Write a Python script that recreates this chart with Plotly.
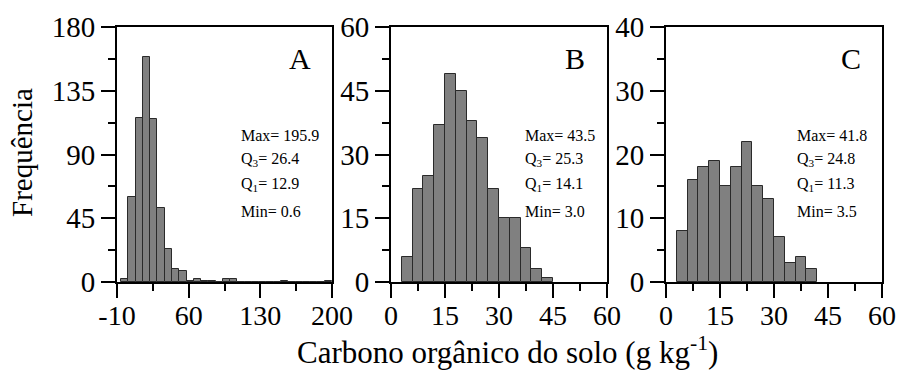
import plotly.graph_objects as go

W, H = 899, 374

# ---- data ----
a_counts = [2, 60, 116, 159, 115, 52, 23, 9, 8, 1, 2, 1, 1, 0, 2, 2, 0, 0, 0, 0, 0, 0, 1, 0, 0, 0, 0, 0, 1]
a_bin_start, a_bin_width = -6.0, 7.1
b_counts = [6, 22, 25, 37, 49, 45, 38, 34, 22, 15, 15, 8, 3, 1]
b_bin_start, b_bin_width = 3.0, 3.0
c_counts = [8, 16, 18, 19, 15, 18, 22, 15, 13, 7, 3, 4, 2]
c_bin_start, c_bin_width = 3.0, 3.0

panel_labels = ["A", "B", "C"]
stats = [
    ["Max= 195.9", "Q<sub>3</sub>= 26.4", "Q<sub>1</sub>= 12.9", "Min= 0.6"],
    ["Max= 43.5", "Q<sub>3</sub>= 25.3", "Q<sub>1</sub>= 14.1", "Min= 3.0"],
    ["Max= 41.8", "Q<sub>3</sub>= 24.8", "Q<sub>1</sub>= 11.3", "Min= 3.5"],
]
x_ranges = [[-10, 200], [0, 60], [0, 60]]
x_tickvals = [[-10, 60, 130, 200], [0, 15, 30, 45, 60], [0, 15, 30, 45, 60]]
x_ticktext = [["-10", "60", "130", "200"], ["0", "15", "30", "45", "60"], ["0", "15", "30", "45", "60"]]
y_ranges = [[0, 180], [0, 60], [0, 40]]
y_dticks = [45, 15, 10]

FONT = "Liberation Serif, Times New Roman, serif"

panels = [
    (a_counts, a_bin_start, a_bin_width),
    (b_counts, b_bin_start, b_bin_width),
    (c_counts, c_bin_start, c_bin_width),
]

# pixel layout of plot areas
x_px = [(117, 332), (391, 607), (666, 882)]
y_px = (27, 282)
ydom = [1 - y_px[1] / H, 1 - y_px[0] / H]

fig = go.Figure()
layout = dict(
    template="none",
    width=W, height=H,
    margin=dict(l=0, r=0, t=0, b=0, pad=0),
    paper_bgcolor="white", plot_bgcolor="white",
    showlegend=False, bargap=0,
    font=dict(family=FONT, color="black"),
)
annotations = []
for i, (counts, start, width) in enumerate(panels):
    centers = [start + width * (k + 0.5) for k in range(len(counts))]
    sfx = "" if i == 0 else str(i + 1)
    fig.add_trace(go.Bar(
        x=centers, y=counts, width=width,
        marker=dict(color="#808080", line=dict(color="#2a2a2a", width=1)),
        xaxis="x" + sfx, yaxis="y" + sfx,
    ))
    xd = [x_px[i][0] / W, x_px[i][1] / W]
    common = dict(
        showline=True, linecolor="black", linewidth=2, mirror=True,
        ticks="outside", ticklen=14, tickwidth=2, tickcolor="black",
        showgrid=False, zeroline=False, automargin=False,
    )
    xstep = x_tickvals[i][1] - x_tickvals[i][0]
    layout["xaxis" + sfx] = dict(
        domain=xd, range=x_ranges[i],
        tickmode="array", tickvals=x_tickvals[i], ticktext=x_ticktext[i],
        anchor="y" + sfx, ticklabelstandoff=-7,
        tickfont=dict(family=FONT, size=28, color="black"),
        minor=dict(ticks="outside", ticklen=7, tickwidth=2, tickcolor="black",
                   dtick=xstep / 2, tick0=x_ranges[i][0]),
        **common,
    )
    layout["yaxis" + sfx] = dict(
        domain=ydom, range=y_ranges[i], tick0=0, dtick=y_dticks[i],
        anchor="x" + sfx,
        tickfont=dict(family=FONT, size=29, color="black"),
        minor=dict(ticks="outside", ticklen=7, tickwidth=2, tickcolor="black",
                   dtick=y_dticks[i] / 2, tick0=0),
        **common,
    )
    xref = ("x" + sfx) + " domain"
    yref = ("y" + sfx) + " domain"
    letter_x = [0.85, 0.852, 0.856][i]
    annotations.append(dict(
        text=panel_labels[i], x=letter_x, y=0.877, xref=xref, yref=yref,
        showarrow=False, xanchor="center", yanchor="middle",
        font=dict(family=FONT, size=30, color="black"),
    ))
    sx = [0.566, 0.610, 0.597][i]
    for j, line in enumerate(stats[i]):
        yc = [135, 159, 184, 211][j]
        annotations.append(dict(
            text=line, x=sx, y=1 - (yc - y_px[0]) / (y_px[1] - y_px[0]),
            xref=xref, yref=yref, showarrow=False,
            xanchor="left", yanchor="middle",
            font=dict(family=FONT, size=16, color="black"),
        ))

annotations.append(dict(
    text="Frequência", x=22 / W, y=1 - 153 / H, xref="paper", yref="paper",
    showarrow=False, textangle=-90, xanchor="center", yanchor="middle",
    font=dict(family=FONT, size=29, color="black"),
))
annotations.append(dict(
    text="Carbono orgânico do solo (g kg<sup>-1</sup>)", x=507 / W, y=1 - 350 / H,
    xref="paper", yref="paper", showarrow=False,
    xanchor="center", yanchor="middle",
    font=dict(family=FONT, size=31, color="black"),
))
layout["annotations"] = annotations
fig.update_layout(**layout)
fig.write_html("out.html")
